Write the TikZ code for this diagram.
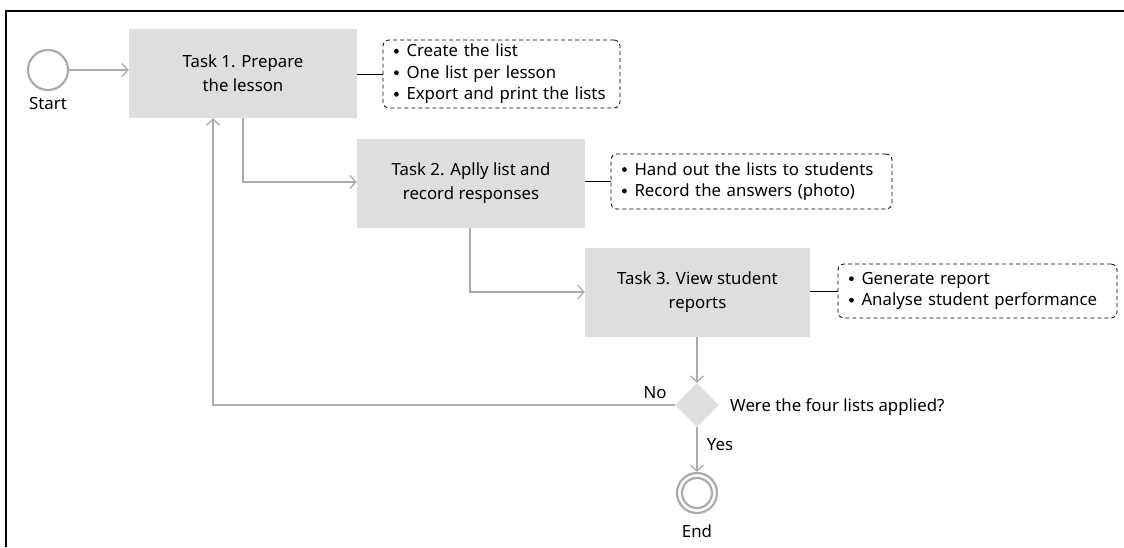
\documentclass[tikz,border=0pt]{standalone}
\usepackage{fontspec}
\setmainfont{Noto Sans}
\usetikzlibrary{arrows.meta,shapes.geometric}
\definecolor{boxgray}{HTML}{DEDEDE}
\definecolor{linegray}{HTML}{ABABAB}
\newcommand\mybul{\makebox[13.5pt][l]{\hspace{1pt}\tikz[baseline=-5.6pt]\fill (0pt,0pt) circle (2.4pt);}}
\tikzset{
  taskbox/.style={fill=boxgray, minimum width=#1, minimum height=89pt, align=center, inner sep=0pt, font=\fontsize{16.8}{24}\selectfont},
  notebox/.style={draw=black, dash pattern=on 4pt off 3pt, rounded corners=6pt, line width=0.8pt, align=left, inner xsep=10pt, inner ysep=3pt, font=\fontsize{16.8}{21.5}\selectfont},
  flow/.style={draw=linegray, line width=1.6pt, -{Straight Barb[length=6pt,width=13pt,line width=1.3pt]}},
  notelink/.style={draw=black, line width=0.8pt},
  lbl/.style={font=\fontsize{16.8}{19}\selectfont, inner sep=0pt},
  startc/.style={circle, draw=linegray, line width=2.2pt, minimum size=40pt, inner sep=0pt},
}
\begin{document}
\begin{tikzpicture}[x=1pt,y=-1pt]
\useasboundingbox (0,0) rectangle (1124,547);
% frame
\draw[line width=1.2pt] (6,547) -- (6,11) -- (1124,11);
% start
\node[startc] (start) at (48,70) {};
\node[lbl] (startl) at (48,103) {Start};
% tasks
\node[taskbox=228pt] (t1) at (243,73.5) {Task 1. Prepare\\the lesson};
\node[taskbox=228pt] (t2) at (471,183) {Task 2. Aplly list and\\record responses};
\node[taskbox=225pt] (t3) at (697.5,292.5) {Task 3. View student\\reports};
% notes
\node[notebox, text width=217pt, minimum height=68pt] (n1) at (501.5,74) {\mybul Create the list\\\mybul One list per lesson\\\mybul Export and print the lists};
\node[notebox, text width=261pt, minimum height=55pt] (n2) at (751.5,181.5) {\mybul Hand out the lists to students\\\mybul Record the answers (photo)};
\node[notebox, text width=259pt, minimum height=54pt] (n3) at (977.5,291) {\mybul Generate report\\\mybul Analyse student performance};
% decision
\node[diamond, fill=boxgray, minimum width=44pt, minimum height=44pt, inner sep=0pt] (d) at (697,405) {};
\node[lbl, anchor=west] (q) at (730,407) {Were the four lists applied?};
% end
\node[circle, draw=linegray, line width=2.2pt, minimum size=40pt, inner sep=0pt] (e) at (697,493) {};
\node[circle, draw=linegray, line width=2.2pt, minimum size=30pt, inner sep=0pt] (ein) at (697,493) {};
\node[lbl] (endl) at (697,531) {End};
% connectors
\draw[flow] (start.east) -- (t1.west |- start.east);
\draw[notelink] (t1.east |- n1.west) -- (n1.west);
\draw[notelink] (t2.east |- n2.west) -- (n2.west);
\draw[notelink] (t3.east |- n3.west) -- (n3.west);
\coordinate (c1) at (243,182);
\draw[flow] (t1.south -| c1) -- (c1) -- (t2.west |- c1);
\coordinate (c2) at (470,292);
\draw[flow] (t2.south -| c2) -- (c2) -- (t3.west |- c2);
\draw[flow] (t3.south -| d.north) -- (d.north);
\coordinate (c3) at (213,405);
\draw[flow] (d.west) -- (c3) -- (t1.south -| c3);
\draw[flow] (d.south) -- (e.north);
\node[lbl] (no) at (655,393) {No};
\node[lbl] (yes) at (720,445) {Yes};
\end{tikzpicture}
\end{document}
